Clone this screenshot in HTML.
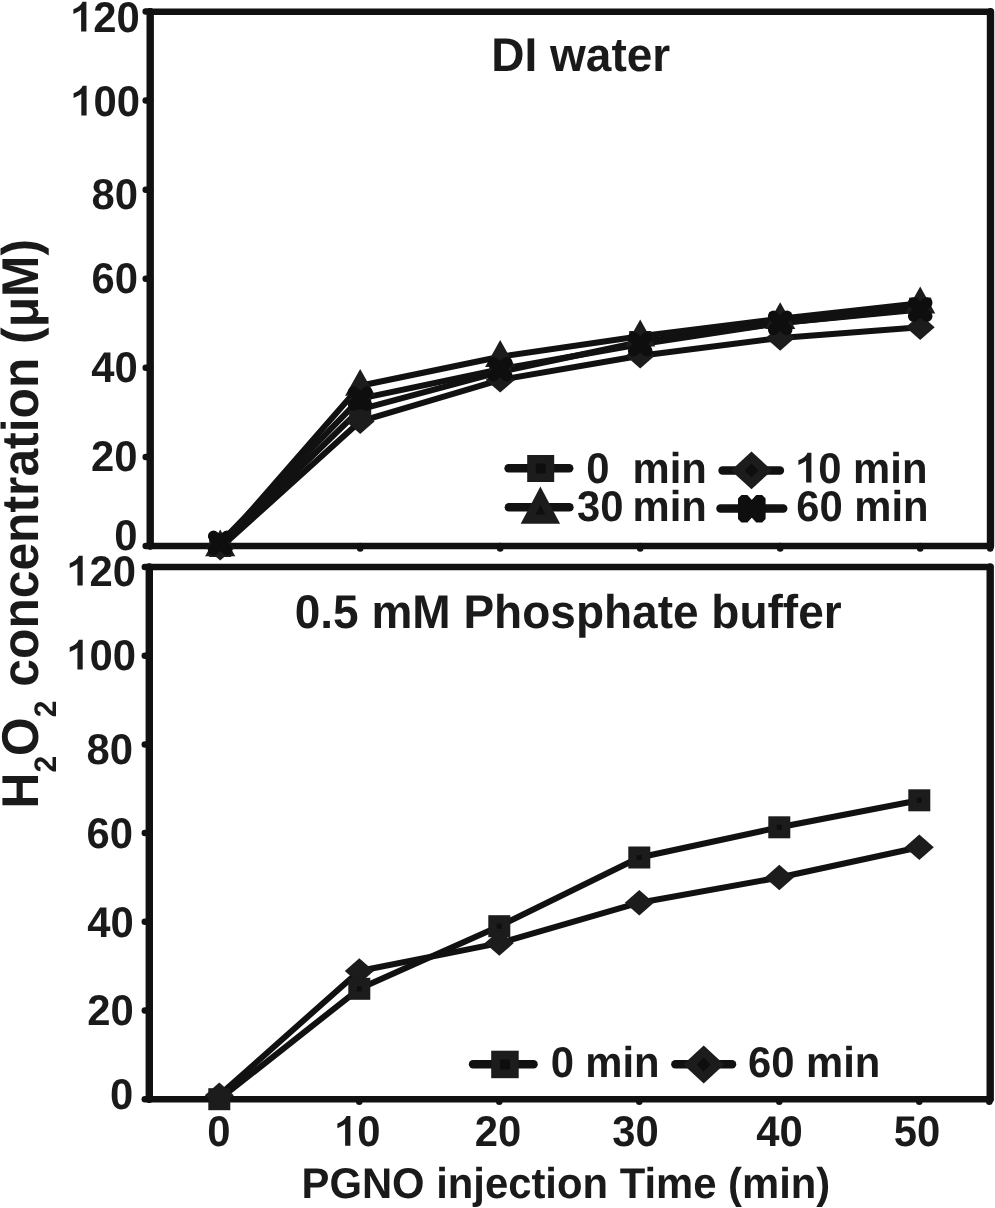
<!DOCTYPE html>
<html><head><meta charset="utf-8"><style>
html,body{margin:0;padding:0;background:#fff;}
svg{display:block;filter:grayscale(1);}
text{font-family:"Liberation Sans",sans-serif;font-weight:bold;fill:#1a1a1a;text-rendering:geometricPrecision;}
</style></head><body>
<svg width="995" height="1208" viewBox="0 0 995 1208">
<rect width="995" height="1208" fill="#fff"/>
<path d="M150.20,11.82 H990.50 M150.20,546.00 H990.50" fill="none" stroke="#111" stroke-width="6.6" stroke-linecap="round"/>
<path d="M150.20,11.82 V546.00 M990.50,11.82 V546.00" fill="none" stroke="#111" stroke-width="7.4" stroke-linecap="round"/>
<path d="M149.30,567.00 H990.20 M149.30,1099.20 H990.20" fill="none" stroke="#111" stroke-width="6.6" stroke-linecap="round"/>
<path d="M149.30,567.00 V1099.20 M990.20,567.00 V1099.20" fill="none" stroke="#111" stroke-width="7.4" stroke-linecap="round"/>
<line x1="150.2" y1="546.0" x2="145.7" y2="546.0" stroke="#111" stroke-width="6.5" stroke-linecap="round"/>
<line x1="149.3" y1="1099.2" x2="144.8" y2="1099.2" stroke="#111" stroke-width="6.5" stroke-linecap="round"/>
<line x1="150.2" y1="456.9" x2="145.7" y2="456.9" stroke="#111" stroke-width="6.5" stroke-linecap="round"/>
<line x1="149.3" y1="1010.5" x2="144.8" y2="1010.5" stroke="#111" stroke-width="6.5" stroke-linecap="round"/>
<line x1="150.2" y1="367.8" x2="145.7" y2="367.8" stroke="#111" stroke-width="6.5" stroke-linecap="round"/>
<line x1="149.3" y1="921.8" x2="144.8" y2="921.8" stroke="#111" stroke-width="6.5" stroke-linecap="round"/>
<line x1="150.2" y1="278.8" x2="145.7" y2="278.8" stroke="#111" stroke-width="6.5" stroke-linecap="round"/>
<line x1="149.3" y1="833.1" x2="144.8" y2="833.1" stroke="#111" stroke-width="6.5" stroke-linecap="round"/>
<line x1="150.2" y1="189.7" x2="145.7" y2="189.7" stroke="#111" stroke-width="6.5" stroke-linecap="round"/>
<line x1="149.3" y1="744.4" x2="144.8" y2="744.4" stroke="#111" stroke-width="6.5" stroke-linecap="round"/>
<line x1="150.2" y1="100.6" x2="145.7" y2="100.6" stroke="#111" stroke-width="6.5" stroke-linecap="round"/>
<line x1="149.3" y1="655.7" x2="144.8" y2="655.7" stroke="#111" stroke-width="6.5" stroke-linecap="round"/>
<line x1="150.2" y1="11.5" x2="145.7" y2="11.5" stroke="#111" stroke-width="6.5" stroke-linecap="round"/>
<line x1="149.3" y1="567.0" x2="144.8" y2="567.0" stroke="#111" stroke-width="6.5" stroke-linecap="round"/>
<line x1="220.2" y1="546.0" x2="220.2" y2="548.5" stroke="#111" stroke-width="6.5" stroke-linecap="round"/>
<line x1="219.3" y1="1099.2" x2="219.3" y2="1101.7" stroke="#111" stroke-width="6.5" stroke-linecap="round"/>
<line x1="360.2" y1="546.0" x2="360.2" y2="548.5" stroke="#111" stroke-width="6.5" stroke-linecap="round"/>
<line x1="359.3" y1="1099.2" x2="359.3" y2="1101.7" stroke="#111" stroke-width="6.5" stroke-linecap="round"/>
<line x1="500.2" y1="546.0" x2="500.2" y2="548.5" stroke="#111" stroke-width="6.5" stroke-linecap="round"/>
<line x1="499.3" y1="1099.2" x2="499.3" y2="1101.7" stroke="#111" stroke-width="6.5" stroke-linecap="round"/>
<line x1="640.2" y1="546.0" x2="640.2" y2="548.5" stroke="#111" stroke-width="6.5" stroke-linecap="round"/>
<line x1="639.3" y1="1099.2" x2="639.3" y2="1101.7" stroke="#111" stroke-width="6.5" stroke-linecap="round"/>
<line x1="780.2" y1="546.0" x2="780.2" y2="548.5" stroke="#111" stroke-width="6.5" stroke-linecap="round"/>
<line x1="779.3" y1="1099.2" x2="779.3" y2="1101.7" stroke="#111" stroke-width="6.5" stroke-linecap="round"/>
<line x1="920.2" y1="546.0" x2="920.2" y2="548.5" stroke="#111" stroke-width="6.5" stroke-linecap="round"/>
<line x1="919.3" y1="1099.2" x2="919.3" y2="1101.7" stroke="#111" stroke-width="6.5" stroke-linecap="round"/>
<line x1="990.2" y1="546.0" x2="990.2" y2="548.5" stroke="#111" stroke-width="6.5" stroke-linecap="round"/>
<line x1="989.3" y1="1099.2" x2="989.3" y2="1101.7" stroke="#111" stroke-width="6.5" stroke-linecap="round"/>
<polyline points="220.2,546.0 360.2,409.3 500.2,371.8 640.2,342.0 780.2,322.9 920.2,308.6" fill="none" stroke="#111" stroke-width="6.0" stroke-linejoin="round" stroke-linecap="round"/>
<polyline points="220.2,547.8 360.2,421.3 500.2,379.9 640.2,355.8 780.2,338.0 920.2,327.3" fill="none" stroke="#111" stroke-width="6.0" stroke-linejoin="round" stroke-linecap="round"/>
<polyline points="220.2,546.0 360.2,385.7 500.2,356.7 640.2,336.2 780.2,318.8 920.2,303.3" fill="none" stroke="#111" stroke-width="6.0" stroke-linejoin="round" stroke-linecap="round"/>
<polyline points="220.2,542.9 360.2,398.6 500.2,369.2 640.2,344.2 780.2,322.9 920.2,309.5" fill="none" stroke="#111" stroke-width="6.0" stroke-linejoin="round" stroke-linecap="round"/>
<polyline points="219.3,1099.2 359.3,988.8 499.3,926.2 639.3,857.5 779.3,827.3 919.3,800.3" fill="none" stroke="#111" stroke-width="6.0" stroke-linejoin="round" stroke-linecap="round"/>
<polyline points="219.3,1095.2 359.3,971.0 499.3,943.1 639.3,902.7 779.3,877.5 919.3,847.3" fill="none" stroke="#111" stroke-width="6.0" stroke-linejoin="round" stroke-linecap="round"/>
<rect x="209.2" y="535.0" width="22" height="22" fill="#1c1c1c"/>
<rect x="217.7" y="543.5" width="5" height="5" fill="#0e0e0e"/>
<rect x="349.2" y="398.3" width="22" height="22" fill="#1c1c1c"/>
<rect x="357.7" y="406.8" width="5" height="5" fill="#0e0e0e"/>
<rect x="489.2" y="360.8" width="22" height="22" fill="#1c1c1c"/>
<rect x="497.7" y="369.3" width="5" height="5" fill="#0e0e0e"/>
<rect x="629.2" y="331.0" width="22" height="22" fill="#1c1c1c"/>
<rect x="637.7" y="339.5" width="5" height="5" fill="#0e0e0e"/>
<rect x="769.2" y="311.9" width="22" height="22" fill="#1c1c1c"/>
<rect x="777.7" y="320.4" width="5" height="5" fill="#0e0e0e"/>
<rect x="909.2" y="297.6" width="22" height="22" fill="#1c1c1c"/>
<rect x="917.7" y="306.1" width="5" height="5" fill="#0e0e0e"/>
<path d="M220.2,535.1 L234.7,547.8 L220.2,560.5 L205.7,547.8 Z" fill="#1c1c1c"/>
<path d="M360.2,408.6 L374.7,421.3 L360.2,434.0 L345.7,421.3 Z" fill="#1c1c1c"/>
<path d="M500.2,367.2 L514.7,379.9 L500.2,392.6 L485.7,379.9 Z" fill="#1c1c1c"/>
<path d="M640.2,343.1 L654.7,355.8 L640.2,368.5 L625.7,355.8 Z" fill="#1c1c1c"/>
<path d="M780.2,325.3 L794.7,338.0 L780.2,350.7 L765.7,338.0 Z" fill="#1c1c1c"/>
<path d="M920.2,314.6 L934.7,327.3 L920.2,340.0 L905.7,327.3 Z" fill="#1c1c1c"/>
<path d="M220.2,529.4 L235.3,556.2 L205.1,556.2 Z" fill="#1c1c1c"/>
<path d="M360.2,369.0 L375.3,395.8 L345.1,395.8 Z" fill="#1c1c1c"/>
<path d="M500.2,340.1 L515.3,366.9 L485.1,366.9 Z" fill="#1c1c1c"/>
<path d="M640.2,319.6 L655.3,346.4 L625.1,346.4 Z" fill="#1c1c1c"/>
<path d="M780.2,302.2 L795.3,329.0 L765.1,329.0 Z" fill="#1c1c1c"/>
<path d="M920.2,286.6 L935.3,313.4 L905.1,313.4 Z" fill="#1c1c1c"/>
<path d="M213.55,536.23 L226.85,549.53 M213.55,549.53 L226.85,536.23" stroke="#0e0e0e" stroke-width="11.3" stroke-linecap="round" fill="none"/>
<path d="M353.55,391.92 L366.85,405.22 M353.55,405.22 L366.85,391.92" stroke="#0e0e0e" stroke-width="11.3" stroke-linecap="round" fill="none"/>
<path d="M493.55,362.53 L506.85,375.83 M493.55,375.83 L506.85,362.53" stroke="#0e0e0e" stroke-width="11.3" stroke-linecap="round" fill="none"/>
<path d="M633.55,337.58 L646.85,350.88 M633.55,350.88 L646.85,337.58" stroke="#0e0e0e" stroke-width="11.3" stroke-linecap="round" fill="none"/>
<path d="M773.55,316.20 L786.85,329.50 M773.55,329.50 L786.85,316.20" stroke="#0e0e0e" stroke-width="11.3" stroke-linecap="round" fill="none"/>
<path d="M913.55,302.84 L926.85,316.14 M913.55,316.14 L926.85,302.84" stroke="#0e0e0e" stroke-width="11.3" stroke-linecap="round" fill="none"/>
<rect x="208.3" y="1088.2" width="22" height="22" fill="#1c1c1c"/>
<rect x="216.8" y="1096.7" width="5" height="5" fill="#0e0e0e"/>
<rect x="348.3" y="977.8" width="22" height="22" fill="#1c1c1c"/>
<rect x="356.8" y="986.3" width="5" height="5" fill="#0e0e0e"/>
<rect x="488.3" y="915.2" width="22" height="22" fill="#1c1c1c"/>
<rect x="496.8" y="923.7" width="5" height="5" fill="#0e0e0e"/>
<rect x="628.3" y="846.5" width="22" height="22" fill="#1c1c1c"/>
<rect x="636.8" y="855.0" width="5" height="5" fill="#0e0e0e"/>
<rect x="768.3" y="816.3" width="22" height="22" fill="#1c1c1c"/>
<rect x="776.8" y="824.8" width="5" height="5" fill="#0e0e0e"/>
<rect x="908.3" y="789.3" width="22" height="22" fill="#1c1c1c"/>
<rect x="916.8" y="797.8" width="5" height="5" fill="#0e0e0e"/>
<path d="M219.3,1082.5 L233.8,1095.2 L219.3,1107.9 L204.8,1095.2 Z" fill="#1c1c1c"/>
<path d="M359.3,958.3 L373.8,971.0 L359.3,983.7 L344.8,971.0 Z" fill="#1c1c1c"/>
<path d="M499.3,930.4 L513.8,943.1 L499.3,955.8 L484.8,943.1 Z" fill="#1c1c1c"/>
<path d="M639.3,890.0 L653.8,902.7 L639.3,915.4 L624.8,902.7 Z" fill="#1c1c1c"/>
<path d="M779.3,864.8 L793.8,877.5 L779.3,890.2 L764.8,877.5 Z" fill="#1c1c1c"/>
<path d="M919.3,834.6 L933.8,847.3 L919.3,860.0 L904.8,847.3 Z" fill="#1c1c1c"/>
<path d="M0.266,0 L0.392,0 L0.392,-0.712 L0.299,-0.712 C0.27,-0.64 0.2,-0.572 0.081,-0.531 L0.081,-0.419 C0.15,-0.445 0.22,-0.48 0.266,-0.519 Z" transform="translate(70.01,31.50) scale(41.8)" fill="#1a1a1a"/>
<text transform="matrix(1,0,0,1.03,0,-0.960)" x="93.25" y="32.00" font-size="41.8" xml:space="preserve">20</text>
<path d="M0.266,0 L0.392,0 L0.392,-0.712 L0.299,-0.712 C0.27,-0.64 0.2,-0.572 0.081,-0.531 L0.081,-0.419 C0.15,-0.445 0.22,-0.48 0.266,-0.519 Z" transform="translate(70.21,115.50) scale(41.8)" fill="#1a1a1a"/>
<text transform="matrix(1,0,0,1.03,0,-3.480)" x="93.45" y="116.00" font-size="41.8" xml:space="preserve">00</text>
<text transform="matrix(1,0,0,1.03,0,-6.270)" x="91.43" y="209.00" font-size="41.8" xml:space="preserve">80</text>
<text transform="matrix(1,0,0,1.03,0,-8.790)" x="91.43" y="293.00" font-size="41.8" xml:space="preserve">60</text>
<text transform="matrix(1,0,0,1.03,0,-11.460)" x="91.26" y="382.00" font-size="41.8" xml:space="preserve">40</text>
<text transform="matrix(1,0,0,1.03,0,-14.130)" x="91.05" y="471.00" font-size="41.8" xml:space="preserve">20</text>
<text transform="matrix(1,0,0,1.03,0,-16.500)" x="114.13" y="550.00" font-size="41.8" xml:space="preserve">0</text>
<path d="M0.266,0 L0.392,0 L0.392,-0.712 L0.299,-0.712 C0.27,-0.64 0.2,-0.572 0.081,-0.531 L0.081,-0.419 C0.15,-0.445 0.22,-0.48 0.266,-0.519 Z" transform="translate(66.31,585.50) scale(41.8)" fill="#1a1a1a"/>
<text transform="matrix(1,0,0,1.03,0,-17.580)" x="89.56" y="586.00" font-size="41.8" xml:space="preserve">20</text>
<path d="M0.266,0 L0.392,0 L0.392,-0.712 L0.299,-0.712 C0.27,-0.64 0.2,-0.572 0.081,-0.531 L0.081,-0.419 C0.15,-0.445 0.22,-0.48 0.266,-0.519 Z" transform="translate(66.31,669.50) scale(41.8)" fill="#1a1a1a"/>
<text transform="matrix(1,0,0,1.03,0,-20.100)" x="89.56" y="670.00" font-size="41.8" xml:space="preserve">00</text>
<text transform="matrix(1,0,0,1.03,0,-22.920)" x="86.53" y="764.00" font-size="41.8" xml:space="preserve">80</text>
<text transform="matrix(1,0,0,1.03,0,-25.440)" x="86.53" y="848.00" font-size="41.8" xml:space="preserve">60</text>
<text transform="matrix(1,0,0,1.03,0,-28.110)" x="87.36" y="937.00" font-size="41.8" xml:space="preserve">40</text>
<text transform="matrix(1,0,0,1.03,0,-30.750)" x="87.25" y="1025.00" font-size="41.8" xml:space="preserve">20</text>
<text transform="matrix(1,0,0,1.03,0,-33.270)" x="110.03" y="1109.00" font-size="41.8" xml:space="preserve">0</text>
<text transform="matrix(1,0,0,1.03,0,-34.389)" x="218.8" y="1146.3" font-size="41.8" text-anchor="middle">0</text>
<text transform="matrix(1,0,0,1.03,0,-34.389)" x="498.0" y="1146.3" font-size="41.8" text-anchor="middle">20</text>
<text transform="matrix(1,0,0,1.03,0,-34.389)" x="635.4" y="1146.3" font-size="41.8" text-anchor="middle">30</text>
<text transform="matrix(1,0,0,1.03,0,-34.389)" x="779.5" y="1146.3" font-size="41.8" text-anchor="middle">40</text>
<text transform="matrix(1,0,0,1.03,0,-34.389)" x="917.0" y="1146.3" font-size="41.8" text-anchor="middle">50</text>
<path d="M0.266,0 L0.392,0 L0.392,-0.712 L0.299,-0.712 C0.27,-0.64 0.2,-0.572 0.081,-0.531 L0.081,-0.419 C0.15,-0.445 0.22,-0.48 0.266,-0.519 Z" transform="translate(334.01,1145.80) scale(41.8)" fill="#1a1a1a"/>
<text transform="matrix(1,0,0,1.03,0,-34.389)" x="357.25" y="1146.30" font-size="41.8" xml:space="preserve">0</text>
<text transform="matrix(1,0,0,1.03,0,-2.136)" x="491.3" y="71.2" font-size="46">DI water</text>
<text transform="matrix(1,0,0,1.03,0,-18.846)" x="294.7" y="628.2" font-size="46">0.5 mM Phosphate buffer</text>
<text transform="matrix(1,0,0,1.03,0,-35.943)" x="301.5" y="1198.1" font-size="41.8">PGNO injection Time (min)</text>
<text transform="translate(37.6,808.5) rotate(-90) scale(1,1.04)" x="0" y="0" font-size="49.75"><tspan>H</tspan><tspan font-size="30" dy="17.5">2</tspan><tspan dy="-17.5">O</tspan><tspan font-size="30" dy="17.5">2</tspan><tspan dy="-17.5"> concentration (μM)</tspan></text>
<line x1="508.6" y1="468.2" x2="569.2" y2="468.2" stroke="#111" stroke-width="8.5" stroke-linecap="round"/>
<rect x="527.2" y="455.0" width="27" height="27" fill="#1c1c1c"/>
<rect x="535.7" y="463.5" width="10" height="10" fill="#0e0e0e"/>
<text transform="matrix(1,0,0,1.03,0,-14.478)" x="586.2" y="482.6" font-size="41.8">0</text>
<text transform="matrix(1,0,0,1.03,0,-14.478)" x="632.5" y="482.6" font-size="41.8">min</text>
<line x1="508.9" y1="507.2" x2="569.4" y2="507.2" stroke="#111" stroke-width="8.5" stroke-linecap="round"/>
<path d="M540.4,486.6 L560.1,523.8 L520.7,523.8 Z" fill="#1c1c1c"/>
<path d="M540.4,504.9 L545.3,514.6 L535.5,514.6 Z" fill="#0e0e0e"/>
<text transform="matrix(1,0,0,1.03,0,-15.630)" x="577.1" y="521" font-size="41.8">30</text>
<text transform="matrix(1,0,0,1.03,0,-15.630)" x="632.5" y="521" font-size="41.8">min</text>
<line x1="722.6" y1="470.4" x2="779.9" y2="470.4" stroke="#111" stroke-width="8.5" stroke-linecap="round"/>
<path d="M751.5,451.6 L772.0,470.4 L751.5,489.2 L731.0,470.4 Z" fill="#1c1c1c"/>
<path d="M751.5,463.4 L758.5,470.4 L751.5,477.4 L744.5,470.4 Z" fill="#0e0e0e"/>
<path d="M0.266,0 L0.392,0 L0.392,-0.712 L0.299,-0.712 C0.27,-0.64 0.2,-0.572 0.081,-0.531 L0.081,-0.419 C0.15,-0.445 0.22,-0.48 0.266,-0.519 Z" transform="translate(795.01,482.50) scale(41.8)" fill="#1a1a1a"/>
<text transform="matrix(1,0,0,1.03,0,-14.490)" x="818.25" y="483.00" font-size="41.8" xml:space="preserve">0 min</text>
<line x1="720.5" y1="508.6" x2="783.2" y2="508.6" stroke="#111" stroke-width="8.5" stroke-linecap="round"/>
<path d="M741.8,495.7 L747.0,495.7 L751.8,501.0 L756.6,495.7 L761.8,495.7 L764.8,498.7 L764.8,518.7 L761.8,521.7 L756.6,521.7 L751.8,516.4 L747.0,521.7 L741.8,521.7 L738.8,518.7 L738.8,498.7 Z" fill="#0e0e0e" stroke="#0e0e0e" stroke-width="1.6" stroke-linejoin="round"/>
<text transform="matrix(1,0,0,1.03,0,-15.630)" x="796.2" y="521" font-size="41.8">60 min</text>
<line x1="473.1" y1="1064.3" x2="533.5" y2="1064.3" stroke="#111" stroke-width="8.5" stroke-linecap="round"/>
<rect x="491.2" y="1050.7" width="27.5" height="27.5" fill="#1c1c1c"/>
<rect x="500.0" y="1059.4" width="10" height="10" fill="#0e0e0e"/>
<text transform="matrix(1,0,0,1.03,0,-32.310)" x="550.7" y="1077" font-size="41.8">0</text>
<text transform="matrix(1,0,0,1.03,0,-32.310)" x="585.3" y="1077" font-size="41.8">min</text>
<line x1="675.4" y1="1064.3" x2="732.0" y2="1064.3" stroke="#111" stroke-width="8.5" stroke-linecap="round"/>
<path d="M703.7,1045.5 L724.2,1064.5 L703.7,1083.5 L683.2,1064.5 Z" fill="#1c1c1c"/>
<path d="M703.7,1057.5 L710.7,1064.5 L703.7,1071.5 L696.7,1064.5 Z" fill="#0e0e0e"/>
<text transform="matrix(1,0,0,1.03,0,-32.310)" x="747.9" y="1077" font-size="41.8">60 min</text>
</svg>
</body></html>
